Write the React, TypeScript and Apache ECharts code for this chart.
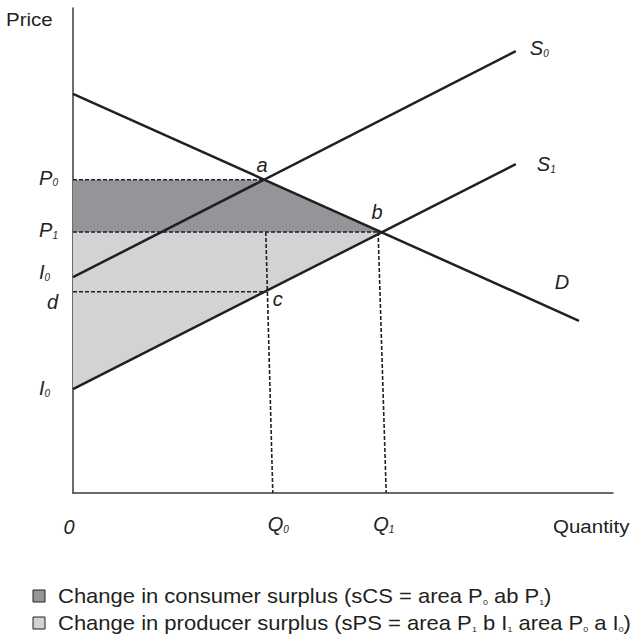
import React, { useEffect, useRef } from "react";
import * as echarts from "echarts";

const FONT = "'Liberation Sans', Arial, Helvetica, sans-serif";
const INK = "#231f20";
const AXIS_INK = "#3a3a3a";
const DARK_FILL = "#939598";
const LIGHT_FILL = "#d1d3d4";

// ---- data (quantity, price) in chart units ----
const axisMaxQ = 10;
const axisMaxP = 10;
const demandD = [[0, 8.23], [9.37, 3.55]];
const supplyS0 = [[0, 4.45], [8.2, 9.11]];
const supplyS1 = [[0, 2.14], [8.2, 6.78]];
const pointA = [3.54, 6.46];
const pointB = [5.67, 5.38];
const pointC = [3.59, 4.15];
const priceP0 = 6.46;
const priceP1 = 5.38;
const priceD = 4.15;
const interceptS0 = 4.45;
const interceptS1 = 2.14;
const dropQ0 = [[3.57, 5.38], [3.7, 0]];
const dropQ1 = [[5.65, 5.38], [5.8, 0]];
const consumerArea = [[0, priceP0], pointA, pointB, [0, priceP1]];
const producerArea = [[0, priceP1], pointB, [0, interceptS1]];
const legendTexts = [
  "Change in consumer surplus (sCS = area P{s|0} ab P{s|1})",
  "Change in producer surplus (sPS = area P{s|1} b I{s|1} area P{s|0} a I{s|0})",
];

function polySeries(points: number[][], fill: string, z: number) {
  return {
    type: "custom",
    silent: true,
    z,
    data: [0],
    renderItem: (_p: any, api: any) => ({
      type: "polygon",
      shape: { points: points.map((pt) => api.coord(pt)) },
      style: { fill, stroke: "none" },
    }),
  };
}

function lineSeries(data: number[][], dashed: boolean, z: number) {
  return {
    type: "line",
    silent: true,
    z,
    symbol: "none",
    data,
    lineStyle: {
      color: INK,
      width: dashed ? 1.6 : 2.5,
      type: dashed ? [4, 2] : "solid",
    },
  };
}

export default function App() {
  const ref = useRef<HTMLDivElement>(null);

  useEffect(() => {
    document.body.style.margin = "0";
    const chart = echarts.init(ref.current!, null, { renderer: "svg" });
    const hidden = { show: false };
    chart.setOption({
      animation: false,
      backgroundColor: "#ffffff",
      grid: { left: 73, right: 19, top: 8, bottom: 147 },
      xAxis: {
        type: "value",
        min: 0,
        max: axisMaxQ,
        axisLine: { show: true, lineStyle: { color: AXIS_INK, width: 1.5 } },
        axisTick: hidden,
        axisLabel: hidden,
        splitLine: hidden,
      },
      yAxis: {
        type: "value",
        min: 0,
        max: axisMaxP,
        axisLine: { show: true, lineStyle: { color: AXIS_INK, width: 1.5 } },
        axisTick: hidden,
        axisLabel: hidden,
        splitLine: hidden,
      },
      series: [
        polySeries(consumerArea, DARK_FILL, 1),
        polySeries(producerArea, LIGHT_FILL, 1),
        lineSeries([[0, priceP0], pointA], true, 3),
        lineSeries([[0, priceP1], pointB], true, 3),
        lineSeries([[0, priceD], pointC], true, 3),
        lineSeries(dropQ0, true, 3),
        lineSeries(dropQ1, true, 3),
        lineSeries(demandD, false, 5),
        lineSeries(supplyS0, false, 5),
        lineSeries(supplyS1, false, 5),
      ],
    });

    const px = (pt: number[]) =>
      chart.convertToPixel({ gridIndex: 0 }, pt) as number[];

    const label = (
      main: string,
      sub: string,
      anchor: number[],
      dx: number,
      dy: number,
      align: string,
      italic = true,
      size = 20,
      sx = 1.0
    ) => {
      const p = px(anchor);
      return {
        type: "text",
        x: p[0] + dx,
        y: p[1] + dy,
        scaleX: sx,
        z: 10,
        silent: true,
        style: {
          x: 0,
          y: 0,
          text: sub ? `{m|${main}}{s|${sub}}` : `{m|${main}}`,
          align,
          verticalAlign: "middle",
          rich: {
            m: {
              fontSize: size,
              fontStyle: italic ? "italic" : "normal",
              fontFamily: FONT,
              fill: INK,
              lineHeight: 20,
            },
            s: {
              fontSize: 10,
              fontStyle: "italic",
              fontFamily: FONT,
              fill: INK,
              lineHeight: 4,
              verticalAlign: "bottom",
            },
          },
        },
      };
    };

    const graphics: any[] = [
      label("Price", "", [0, axisMaxP], -67, 11, "left", false, 19, 1.08),
      label("Quantity", "", [axisMaxQ, 0], -60, 33, "left", false, 19, 1.08),
      label("P", "0", [0, priceP0], -15, -2, "right"),
      label("P", "1", [0, priceP1], -15, -2, "right"),
      label("I", "0", [0, interceptS0], -23, -5, "right"),
      label("d", "", [0, priceD], -15, 10, "right"),
      label("I", "0", [0, interceptS1], -23, -1, "right"),
      label("a", "", pointA, -2, -15, "center"),
      label("b", "", pointB, -2, -20, "center"),
      label("c", "", pointC, 11, 7, "center"),
      label("S", "0", supplyS0[1], 14, -3, "left"),
      label("S", "1", supplyS1[1], 21, 0, "left"),
      label("D", "", demandD[1], -17, -39, "center"),
      label("0", "", [0, 0], -4, 34, "center"),
      label("Q", "0", dropQ0[1], -5, 31, "left"),
      label("Q", "1", dropQ1[1], -13, 31, "left"),
    ];

    const legendFills = [DARK_FILL, LIGHT_FILL];
    legendTexts.forEach((t, i) => {
      const cy = 596 + i * 27;
      graphics.push({
        type: "rect",
        shape: { x: 33, y: cy - 6, width: 12, height: 12 },
        style: { fill: legendFills[i], stroke: INK, lineWidth: 1 },
        silent: true,
      });
      graphics.push({
        type: "text",
        x: 58,
        y: cy,
        scaleX: 1.1,
        silent: true,
        style: {
          x: 0,
          y: 0,
          text: t,
          align: "left",
          verticalAlign: "middle",
          fontSize: 20,
          fontFamily: FONT,
          fill: INK,
          lineHeight: 20,
          rich: {
            s: {
              fontSize: 8,
              fontFamily: FONT,
              fill: INK,
              lineHeight: 12,
              verticalAlign: "bottom",
            },
          },
        },
      });
    });

    chart.setOption({ graphic: graphics });

    return () => {
      chart.dispose();
    };
  }, []);

  return <div ref={ref} style={{ width: 632, height: 640 }} />;
}
